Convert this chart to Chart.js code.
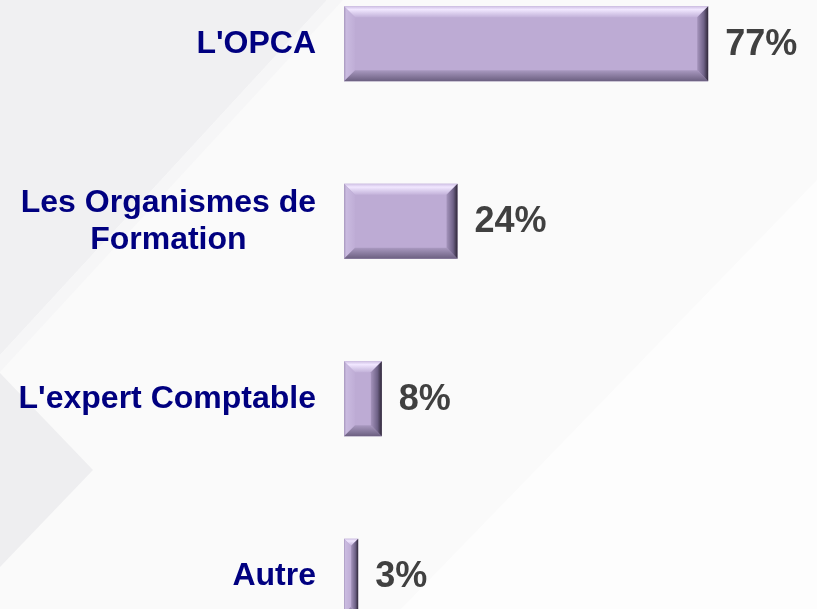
<!DOCTYPE html>
<html>
<head>
<meta charset="utf-8">
<script src="https://cdn.jsdelivr.net/npm/chart.js@4/dist/chart.umd.min.js"></script>
<style>
html, body { margin: 0; padding: 0; overflow: hidden; }
body { width: 817px; height: 609px; position: relative; background: #fafafa; }
.shape { position: absolute; left: 0; top: 0; width: 817px; height: 609px; }
.shade-top { background: #f0f0f2; clip-path: polygon(0 0, 327px 0, 0 355px); }
.shade-band { background: #f6f6f7; clip-path: polygon(327px 0, 343px 0, 0 372px, 0 355px); }
.shade-arrow { background: #eeeef0; clip-path: polygon(0 373px, 93px 470px, 0 567px); }
.light-side { background: #fdfdfd; clip-path: polygon(817px 180px, 817px 609px, 401px 609px); }
#wrap { position: absolute; left: 0; top: -45px; width: 817px; height: 710px; }
</style>
</head>
<body>
<div class="shape shade-top"></div>
<div class="shape shade-band"></div>
<div class="shape shade-arrow"></div>
<div class="shape light-side"></div>
<div id="wrap"><canvas id="barChart" width="817" height="710"></canvas></div>

<script>
// answers, in %
var categories = ["L'OPCA", ["Les Organismes de", "Formation"], "L'expert Comptable", "Autre"];
var percentages = [77, 24, 8, 3];
var axisMax = 100;

var labelFont = 'bold 32px "Liberation Sans", Arial, sans-serif';
var valueFont = 'bold 36px "Liberation Sans", Arial, sans-serif';

function grad(ctx, x0, y0, x1, y1, stops) {
    var g = ctx.createLinearGradient(x0, y0, x1, y1);
    stops.forEach(function (s) { g.addColorStop(s[0], s[1]); });
    return g;
}

function poly(ctx, pts, fill) {
    ctx.beginPath();
    ctx.moveTo(pts[0][0], pts[0][1]);
    for (var i = 1; i < pts.length; i++) ctx.lineTo(pts[i][0], pts[i][1]);
    ctx.closePath();
    ctx.fillStyle = fill;
    ctx.fill();
}

// bevelled edges on top of each bar
var bevelPlugin = {
    id: 'bevel',
    afterDatasetsDraw: function (chart) {
        var ctx = chart.ctx;
        chart.getDatasetMeta(0).data.forEach(function (bar) {
            var p = bar.getProps(['x', 'y', 'base', 'height'], true);
            var l = p.base, r = p.x, t = p.y - p.height / 2, b = p.y + p.height / 2;
            var s = Math.min(11, (r - l) / 2, (b - t) / 2);
            ctx.save();
            poly(ctx, [[l, t], [r, t], [r - s, t + s], [l + s, t + s]],
                grad(ctx, 0, t, 0, t + s, [[0, '#cfc0e4'], [0.3, '#f1e7ff'], [0.65, '#d9ccec'], [1, '#c3b2da']]));
            poly(ctx, [[l, t], [l + s, t + s], [l + s, b - s], [l, b]],
                grad(ctx, l, 0, l + s, 0, [[0, '#a797bd'], [0.2, '#cabbe0'], [1, '#bfadd6']]));
            poly(ctx, [[l, b], [l + s, b - s], [r - s, b - s], [r, b]],
                grad(ctx, 0, b - s, 0, b, [[0, '#a999c0'], [1, '#6b5f80']]));
            poly(ctx, [[r, t], [r, b], [r - s, b - s], [r - s, t + s]],
                grad(ctx, r - s, 0, r, 0, [[0, '#a594bc'], [0.6, '#6f6287'], [1, '#2d2636']]));
            ctx.restore();
        });
    }
};

// "77%" etc. after the bars, category names on the left
var textPlugin = {
    id: 'texts',
    afterDraw: function (chart) {
        var ctx = chart.ctx;
        var yScale = chart.scales.y;
        ctx.save();
        ctx.textBaseline = 'middle';

        ctx.font = valueFont;
        ctx.fillStyle = '#404040';
        ctx.textAlign = 'left';
        chart.getDatasetMeta(0).data.forEach(function (bar, i) {
            var p = bar.getProps(['x', 'y'], true);
            ctx.fillText(percentages[i] + '%', p.x + 17, p.y + 1);
        });

        ctx.font = labelFont;
        ctx.fillStyle = '#000080';
        ctx.textAlign = 'center';
        var right = chart.chartArea.left - 28;
        var lineH = 37;
        categories.forEach(function (cat, i) {
            var lines = Array.isArray(cat) ? cat : [cat];
            var w = Math.max.apply(null, lines.map(function (s) { return ctx.measureText(s).width; }));
            var cy = yScale.getPixelForValue(i);
            var y0 = cy - (lines.length - 1) * lineH / 2;
            lines.forEach(function (s, k) {
                ctx.fillText(s, right - w / 2, y0 + k * lineH);
            });
        });
        ctx.restore();
    }
};

var ctx = document.getElementById('barChart').getContext('2d');
window.barChart = new Chart(ctx, {
    type: 'bar',
    data: {
        labels: categories,
        datasets: [{
            data: percentages,
            backgroundColor: '#bdabd4',
            borderWidth: 0,
            barPercentage: 0.4225,
            categoryPercentage: 1
        }]
    },
    options: {
        indexAxis: 'y',
        responsive: false,
        animation: false,
        layout: { padding: { left: 344, right: 0, top: 0, bottom: 0 } },
        plugins: {
            legend: { display: false },
            tooltip: { enabled: false }
        },
        scales: {
            x: { min: 0, max: axisMax, display: false },
            y: { display: false }
        }
    },
    plugins: [bevelPlugin, textPlugin]
});
</script>
</body>
</html>
